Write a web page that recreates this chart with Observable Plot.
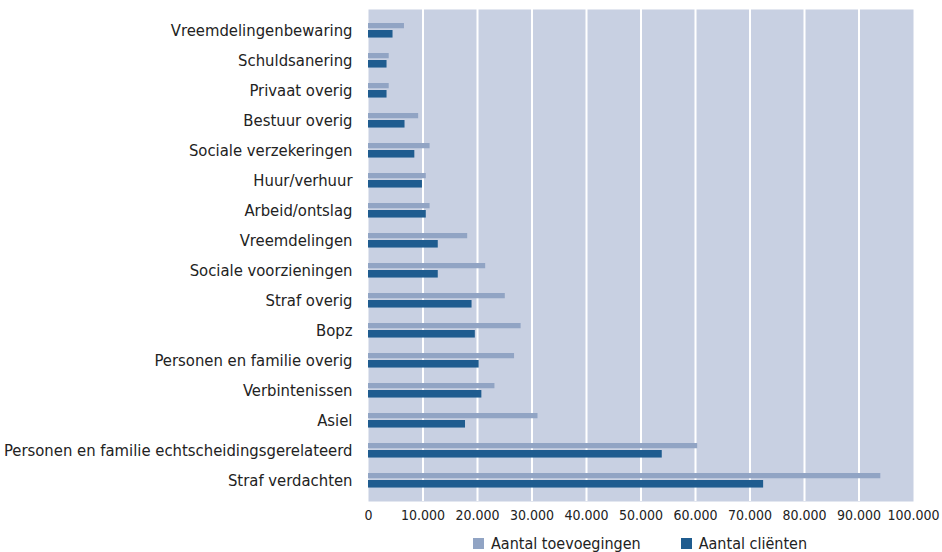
<!DOCTYPE html>
<html>
<head>
<meta charset="utf-8">
<script src="https://cdn.jsdelivr.net/npm/d3@7"></script>
<script src="https://cdn.jsdelivr.net/npm/@observablehq/plot@0.6"></script>
<style>
  body { margin: 0; background: #fff; font-family: "DejaVu Sans Condensed", "DejaVu Sans", sans-serif; }
  #legend { display: flex; justify-content: flex-start; align-items: center; width: 942px; padding-left: 473px; box-sizing: border-box; gap: 40px; font-size: 16px; color: #222; height: 24px; margin-top: 3px; }
  .item { display: flex; align-items: center; gap: 7px; }
  .sw { width: 11px; height: 11px; display: inline-block; }
</style>
</head>
<body>
<div id="chart"></div>
<div id="legend"></div>
<script>
const categories = [
  "Vreemdelingenbewaring", "Schuldsanering", "Privaat overig", "Bestuur overig",
  "Sociale verzekeringen", "Huur/verhuur", "Arbeid/ontslag", "Vreemdelingen",
  "Sociale voorzieningen", "Straf overig", "Bopz", "Personen en familie overig",
  "Verbintenissen", "Asiel", "Personen en familie echtscheidingsgerelateerd", "Straf verdachten"
];
const toevoegingen = [6600, 3800, 3800, 9200, 11300, 10600, 11300, 18200, 21500, 25100, 28000, 26800, 23200, 31100, 60400, 94000];
const clienten = [4500, 3400, 3400, 6700, 8500, 9900, 10600, 12800, 12800, 19000, 19600, 20300, 20800, 17800, 53900, 72500];
const seriesNames = ["Aantal toevoegingen", "Aantal cliënten"];
const colors = ["#91a4c4", "#1f5c8f"];
const xTicks = [0, 10000, 20000, 30000, 40000, 50000, 60000, 70000, 80000, 90000, 100000];

const rows = categories.map((c, i) => ({cat: c, toev: toevoegingen[i], cl: clienten[i]}));
const nl = d3.formatLocale({decimal: ",", thousands: ".", grouping: [3], currency: ["€", ""]});
const fmt = nl.format(",");

const W = 942, H = 528, mt = 9, mb = 27, ml = 368, mr = 29;
const band = (H - mt - mb) / categories.length;

const chart = Plot.plot({
  width: W, height: H,
  marginTop: mt, marginBottom: mb, marginLeft: ml, marginRight: mr,
  style: {fontFamily: "DejaVu Sans Condensed", fontSize: "16.5px", color: "#222", background: "#fff"},
  x: {domain: [0, 100000], ticks: xTicks, tickFormat: fmt, label: null, tickSize: 0, tickPadding: 9},
  y: {domain: categories, padding: 0, label: null, tickSize: 0, tickPadding: 16},
  marks: [
    Plot.frame({fill: "#c8d0e2", stroke: null}),
    Plot.ruleX(xTicks.filter(d => d > 0 && d < 100000), {stroke: "white", strokeWidth: 2}),
    Plot.barX(rows, {x: "toev", y: "cat", fill: colors[0], insetTop: 8, insetBottom: band - 14}),
    Plot.barX(rows, {x: "cl", y: "cat", fill: colors[1], insetTop: 15, insetBottom: band - 23.3})
  ]
});
chart.querySelectorAll("[aria-label='x-axis tick label']").forEach(g => g.setAttribute("font-size", "14px"));
document.getElementById("chart").appendChild(chart);

const leg = document.getElementById("legend");
seriesNames.forEach((n, i) => {
  const it = document.createElement("span");
  it.className = "item";
  it.innerHTML = `<span class="sw" style="background:${colors[i]}"></span><span>${n}</span>`;
  leg.appendChild(it);
});
</script>
</body>
</html>
